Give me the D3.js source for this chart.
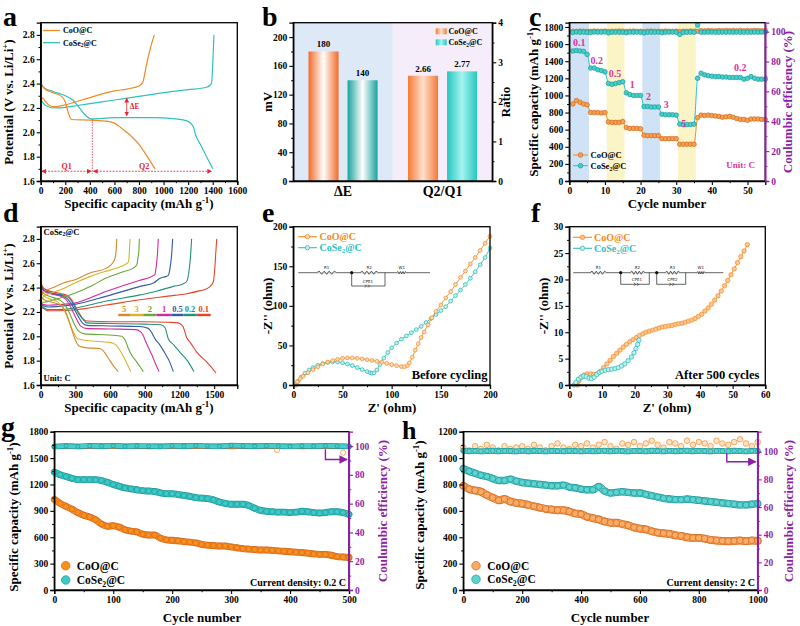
<!DOCTYPE html>
<html>
<head>
<meta charset="utf-8">
<script src="https://cdn.jsdelivr.net/npm/d3@7/dist/d3.min.js"></script>
<style>
  body { margin: 0; background: #fff; }
  svg { display: block; }
</style>
</head>
<body>
<svg id="fig" width="800" height="626"></svg>
<script>
// ---------- values ----------
// (a) voltage profiles, [capacity mAh/g, potential V]
const aCoODis = [[0,2.40],[30,2.36],[100,2.325],[170,2.295],[200,2.25],[225,2.16],[250,2.105],[400,2.10],[550,2.09],[600,2.075],[650,2.04],[700,2.0],[800,1.90],[880,1.78],[930,1.70]];
const aCoOChg = [[0,2.27],[15,2.28],[40,2.25],[70,2.22],[120,2.21],[200,2.225],[300,2.255],[400,2.285],[500,2.315],[600,2.34],[700,2.355],[800,2.38],[830,2.41],[860,2.55],[895,2.70],[925,2.80]];
const aCoSeDis = [[0,2.68],[3,2.40],[30,2.365],[100,2.335],[200,2.30],[260,2.265],[300,2.22],[350,2.155],[410,2.11],[600,2.12],[900,2.12],[1100,2.11],[1200,2.09],[1240,2.05],[1260,1.98],[1300,1.90],[1350,1.80],[1400,1.70]];
const aCoSeChg = [[0,2.27],[20,2.24],[60,2.21],[120,2.20],[200,2.205],[300,2.22],[400,2.235],[600,2.265],[800,2.295],[1000,2.325],[1200,2.35],[1350,2.37],[1390,2.40],[1402,2.60],[1410,2.80]];
const aXTicks = [0,200,400,600,800,1000,1200,1400,1600];
const aYTicks = [1.6,1.8,2.0,2.2,2.4,2.6,2.8];

// (b) overpotential and capacity ratio
const bGroups = ['ΔE', 'Q2/Q1'];
const bSeries = ['CoO@C', 'CoSe2@C'];
const bDeltaE = [180, 140];
const bRatio = [2.66, 2.77];
const bYTicks = [0,40,80,120,160,200];
const bRTicks = [0,1,2,3,4];

// (c) rate capability, one value per cycle (cycle 1..55)
const cCoO = [900,940,920,900,890, 800,800,800,795,800, 690,685,685,685,695, 625,615,615,615,610, 535,530,530,530,530, 495,495,495,495,495, 430,430,430,430,430, 740,770,765,770,765, 760,755,745,750,755, 745,730,720,720,710, 725,725,725,720,720];
const cCoSe = [1520,1525,1520,1515,1480, 1320,1320,1300,1290,1275, 1140,1130,1140,1150,1160, 1030,1010,1000,1000,1000, 870,870,865,865,865, 780,775,775,775,770, 665,660,660,660,665, 1200,1260,1240,1230,1225, 1220,1220,1215,1215,1210, 1210,1210,1210,1190,1200, 1220,1200,1190,1190,1190];
const cCoOCE = [100.3,100.1,100.4,100.2,100.3, 100.2,100.4,100.3,100.2,100.4, 100.1,100.3,100.2,100.4,100.3, 100.2,100.3,100.4,100.2,100.3, 100.1,100.3,100.4,100.2,100.3, 100.2,100.4,100.3,100.2,100.3, 100.1,100.3,100.2,100.4,100.3, 100.2,100.6,100.5,100.7,100.6, 100.5,100.7,100.6,100.8,100.6, 100.7,100.5,100.8,100.6,100.7, 100.6,100.8,100.7,100.6,100.7];
const cCoSeCE = [99.5,99.8,99.6,99.7,99.5, 99.4,99.8,99.6,99.7,99.8, 99.2,99.6,99.7,99.6,99.6, 99.3,99.7,99.6,99.7,99.6, 99.2,99.6,99.7,99.6,99.7, 99.3,99.6,99.7,99.7,99.6, 98.2,99.5,99.6,99.7,99.6, 104.5,99.6,99.6,99.7,99.7, 99.6,99.6,99.7,99.6,99.7, 99.6,99.7,99.6,99.6,99.7, 99.6,99.7,99.6,99.7,99.6];
const cBandRanges = [[0,5.5],[10.5,15.5],[20.5,25.5],[30.5,35.5]];
const cRateText = ['0.1','0.2','0.5','1','2','3','5','0.2'];
const cRateAt = [[2.8,1576],[7.7,1373],[12.8,1210],[17.7,1082],[22.2,945],[27.2,848],[32.1,626],[48,1288]];
const cXTicks = [0,10,20,30,40,50];
const cYTicks = [0,200,400,600,800,1000,1200,1400,1600,1800];
const cRTicks = [0,20,40,60,80,100];

// (d) CoSe2@C profiles at different rates, [capacity, V]
const dRates = ['0.1','0.2','0.5','1','2','3','5'];
const dDis01 = [[0,2.74],[2,2.44],[30,2.39],[100,2.365],[180,2.35],[240,2.33],[280,2.28],[320,2.21],[360,2.15],[400,2.125],[600,2.12],[900,2.12],[1100,2.115],[1190,2.11],[1230,2.08],[1262,1.99],[1300,1.94],[1349,1.87],[1435,1.79],[1516,1.70]];
const dChg01 = [[0,1.72],[3,2.24],[20,2.23],[60,2.21],[150,2.21],[282,2.216],[570,2.257],[859,2.30],[1100,2.33],[1262,2.35],[1380,2.375],[1435,2.39],[1475,2.42],[1493,2.45],[1505,2.55],[1515,2.70],[1522,2.80]];
const dDis02 = [[0,2.42],[30,2.38],[100,2.355],[180,2.34],[240,2.32],[285,2.26],[325,2.19],[365,2.14],[400,2.11],[600,2.105],[900,2.10],[1040,2.095],[1075,2.07],[1103,1.98],[1150,1.93],[1203,1.87],[1276,1.79],[1325,1.71]];
const dChg02 = [[0,1.75],[3,2.25],[20,2.24],[60,2.22],[150,2.22],[282,2.23],[570,2.29],[859,2.34],[1000,2.37],[1147,2.41],[1230,2.43],[1262,2.45],[1280,2.52],[1295,2.65],[1305,2.80]];
const dDis05 = [[0,2.41],[30,2.375],[100,2.35],[180,2.335],[230,2.31],[275,2.25],[320,2.17],[360,2.11],[400,2.09],[600,2.085],[850,2.08],[930,2.065],[960,2.03],[988,1.98],[1030,1.93],[1075,1.86],[1115,1.79],[1147,1.71]];
const dChg05 = [[0,1.78],[3,2.26],[25,2.25],[70,2.24],[150,2.245],[282,2.26],[570,2.33],[859,2.41],[980,2.44],[1032,2.476],[1080,2.49],[1103,2.50],[1120,2.57],[1133,2.68],[1141,2.80]];
const dDis1 = [[0,2.40],[30,2.37],[100,2.345],[170,2.33],[220,2.30],[265,2.23],[305,2.15],[345,2.085],[390,2.065],[600,2.06],[820,2.055],[860,2.04],[885,2.01],[902,1.97],[930,1.91],[960,1.85],[990,1.78],[1023,1.71]];
const dChg1 = [[0,1.80],[3,2.27],[25,2.26],[70,2.255],[150,2.26],[282,2.27],[570,2.37],[859,2.46],[946,2.485],[975,2.50],[988,2.51],[1000,2.58],[1010,2.68],[1017,2.80]];
const dDis2 = [[0,2.38],[30,2.35],[100,2.32],[160,2.30],[210,2.26],[250,2.19],[290,2.10],[330,2.04],[380,2.02],[600,2.01],[700,2.0],[730,1.97],[758,1.90],[790,1.84],[830,1.79],[860,1.75],[887,1.71]];
const dChg2 = [[0,1.82],[3,2.28],[30,2.28],[80,2.29],[150,2.31],[282,2.35],[450,2.42],[570,2.48],[714,2.53],[800,2.56],[830,2.585],[842,2.65],[850,2.72],[853,2.80]];
const dDis3 = [[0,2.36],[30,2.33],[100,2.30],[150,2.28],[200,2.22],[240,2.13],[280,2.04],[320,1.98],[400,1.965],[600,1.95],[650,1.93],[700,1.86],[743,1.78],[778,1.71]];
const dChg3 = [[0,1.85],[3,2.30],[30,2.33],[100,2.36],[167,2.38],[300,2.44],[426,2.49],[550,2.53],[657,2.56],[730,2.59],[758,2.61],[766,2.68],[772,2.80]];
const dDis5 = [[0,2.33],[30,2.30],[100,2.28],[180,2.25],[230,2.17],[270,2.05],[300,1.97],[330,1.92],[400,1.905],[513,1.90],[550,1.87],[585,1.82],[642,1.74],[671,1.71]];
const dChg5 = [[0,1.88],[3,2.32],[20,2.36],[109,2.40],[200,2.44],[282,2.46],[426,2.52],[570,2.56],[620,2.60],[642,2.64],[652,2.70],[658,2.80]];
const dKeyOrder = ['5','3','2','1','0.5','0.2','0.1'];
const dKeyEdges = [671,772,887,1003,1133,1233,1349,1470];
const dXTicks = [0,300,600,900,1200,1500];
const dYTicks = [1.6,1.8,2.0,2.2,2.4,2.6,2.8];

// (e) EIS before cycling, [Z', -Z'']
const eCoO = [[2,0],[4,4],[7,8],[10,11],[15,15.5],[20,19.5],[25,23],[30,26.5],[35,29],[40,31],[45,32.5],[50,33.8],[55,34.3],[60,34.2],[65,33.7],[70,33],[75,32],[80,31],[85,30],[90,28.7],[95,27.3],[100,25.8],[105,24.5],[110,23.3],[113,23],[116,24.5],[118,28],[121,35],[124,44],[127,52],[130,60],[133,67],[137,76],[141,85],[145,93],[150,101],[155,110],[160,118],[165,127],[170,136],[175,144],[180,153],[185,161],[190,170],[195,179],[200,188]];
const eCoSe = [[3,0],[5,5],[8,10],[12,15],[16,19],[20,22],[25,25],[30,27],[35,28.5],[40,29.3],[45,29],[50,28],[55,26.5],[60,24.5],[65,22],[70,19.5],[75,17],[78,15.5],[80,14.8],[82,15.3],[85,19],[88,26],[92,34],[96,41],[100,47],[105,53],[110,58],[115,62],[120,66],[125,70],[130,74],[135,79],[140,84],[145,89],[150,94],[155,99],[160,106],[165,113],[170,120],[175,127],[180,135],[185,143],[190,152],[195,161],[200,173]];
const eTicks = [0,50,100,150,200];

// (f) EIS after 500 cycles
const fCoO = [[2.5,0],[3,0.8],[3.8,1.5],[4.6,1.9],[5.5,2.1],[6.5,2.1],[7.5,2.0],[8.5,2.1],[9.5,2.6],[10.5,3.3],[11.5,4.0],[12.5,4.7],[13.5,5.4],[14.5,6.0],[15.5,6.6],[16.5,7.2],[17.5,7.7],[18.5,8.2],[19.5,8.6],[20.5,9.0],[21.5,9.4],[22.5,9.7],[23.5,10.0],[24.5,10.2],[25.5,10.4],[26.5,10.6],[27.5,10.8],[28.5,11.0],[29.5,11.1],[30.5,11.2],[31.5,11.3],[32.5,11.5],[33.5,11.6],[34.5,11.7],[35.5,11.9],[36.5,12.1],[37.5,12.3],[38.5,12.6],[39.5,13.0],[40.5,13.4],[41.5,14.0],[42.5,14.6],[43.5,15.3],[44.5,16.1],[45.5,16.9],[46.5,17.8],[47.5,18.8],[48.5,19.8],[49.5,20.9],[50.5,22.0],[51.5,23.2],[52.5,24.3],[53.5,25.4],[54.5,26.6]];
const fCoSe = [[1.5,0],[2,0.5],[2.8,1.1],[3.6,1.5],[4.4,1.7],[5.2,1.6],[6,1.3],[6.8,1.2],[7.6,1.5],[8.4,2.0],[9.2,2.4],[10,2.6],[11,2.8],[12,2.9],[13,3.0],[14,3.1],[15,3.3],[16,3.6],[17,4.0],[18,4.6],[19,5.3],[19.8,6.1],[20.4,6.9],[20.9,7.7],[21.3,8.5]];
const fXTicks = [0,10,20,30,40,50,60];
const fYTicks = [0,5,10,15,20,25,30];

// (g) cycling at 0.2 C, capacity every 10 cycles, CE every 20 cycles
const gCoO = [1030,985,950,920,880,850,830,800,750,725,730, 715,685,670,660,635,625,625,590,570,565, 560,550,545,535,520,510,505,500,500,490, 480,470,465,460,455,455,450,445,440,435, 430,425,420,410,405,405,395,380,375,370];
const gCoSe = [1340,1310,1290,1270,1255,1255,1255,1255,1245,1225,1200, 1180,1160,1150,1140,1130,1125,1120,1105,1095,1095, 1085,1075,1065,1050,1045,1040,1025,1000,985,975, 975,975,960,930,905,895,890,885,885,880, 885,895,890,880,875,880,890,890,880,860];
const gCoOCE = [99.8,100.0,99.7,99.9,100.1,99.8,100.0,99.9,99.7,100.0,99.8,100.1,99.9,99.8,100.0,99.7,99.9,100.1,99.8,100.0,99.9,99.7,100.0,99.8,99.9,99.6];
const gCoSeCE = [99.6,100.1,99.8,100.2,99.9,100.3,99.8,100.1,100.0,99.7,100.2,99.9,100.3,100.0,99.8,100.4,100.1,99.9,100.2,100.0,99.8,100.1,99.9,100.2,100.0,99.8];
const gCoOCEOut = [[378,97.3],[490,95.5]];
const gXTicks = [0,100,200,300,400,500];
const gYTicks = [0,300,600,900,1200,1500,1800];

// (h) cycling at 2 C, every 20 cycles
const hCoO = [790,765,755,745,720,700,680,690,670,660,655, 645,635,625,615,610,605,605,595,580,575, 555,545,535,520,510,510,500,490,475,465, 460,445,435,430,425,415,410,400,395,395, 390,380,375,372,370,372,375,370,375,372];
const hCoSe = [920,900,885,870,860,845,830,830,840,825,815, 810,805,800,795,790,790,795,780,775,765, 760,760,785,750,735,740,745,740,735,735, 725,715,705,695,690,685,685,690,685,680, 675,670,665,660,655,650,645,645,650,655];
const hCoOCE = [103,101,104,102,105,103,101,104,102,103, 104,102,105,103,101,104,106,103,102,105, 104,106,103,105,107,104,102,106,105,107, 104,106,108,105,103,107,106,104,108,105, 107,106,104,108,106,105,107,109,106,104,107];
const hCoSeCE = [100.8,100.4,100.6,100.3,100.5,100.7,100.4,100.6,100.5,100.3, 100.6,100.4,100.7,100.5,100.3,100.6,100.5,100.4,100.7,100.5, 100.3,100.6,100.4,100.5,100.7,100.4,100.6,100.5,100.3,100.6, 100.5,100.4,100.7,100.5,100.3,100.6,100.4,100.5,100.7,100.4, 100.6,100.5,100.3,100.6,100.5,100.4,100.7,100.5,100.3,100.6,100.5];
const hXTicks = [0,200,400,600,800,1000];
const hYTicks = [0,200,400,600,800,1000,1200];

// ---------- styling ----------
const SERIF = '"Liberation Serif","Times New Roman",serif';
const ORANGE = '#f28a24', ORANGE_D = '#d6651a';
const TEAL = '#2ec2be', TEAL_D = '#1c9a98';
const PURPLE = '#8e1ea6', MAGENTA = '#e0339c', RED = '#e0282e';
const TICK_FS = 9.5, TITLE_FS = 13;

const svg = d3.select('#fig');
svg.append('rect').attr('width', 800).attr('height', 626).attr('fill', '#fff');
const defs = svg.append('defs');

function arrowMarker(id, color) {
  defs.append('marker').attr('id', id).attr('viewBox', '0 0 10 10')
    .attr('refX', 9).attr('refY', 5).attr('markerWidth', 6).attr('markerHeight', 6)
    .attr('orient', 'auto-start-reverse')
    .append('path').attr('d', 'M0,0L10,5L0,10z').attr('fill', color);
}
arrowMarker('arRed', RED);
arrowMarker('arPurple', PURPLE);

function panel(l, t, r, b) {
  const g = svg.append('g').attr('transform', `translate(${l},${t})`);
  return { g, w: r - l, h: b - t, l, t };
}

// text with optional sup / sub parts
function label(g, x, y, parts, o = {}) {
  const size = o.size || TITLE_FS;
  const t = g.append('text').attr('x', x).attr('y', y)
    .attr('font-family', SERIF).attr('font-weight', 'bold')
    .attr('font-size', size).attr('fill', o.color || '#000')
    .attr('text-anchor', o.anchor || 'middle');
  if (o.rotate) t.attr('transform', `rotate(-90,${x},${y})`);
  let shift = 0;
  parts.forEach(p => {
    const [s, k] = typeof p === 'string' ? [p, null] : p;
    const ts = t.append('tspan').text(s);
    let target = 0;
    if (k === 'sup') target = -size * 0.38;
    if (k === 'sub') target = size * 0.22;
    if (target !== shift) ts.attr('dy', target - shift);
    if (k) ts.attr('font-size', size * 0.68);
    shift = target;
  });
  return t;
}
const coSe = ['CoSe', ['2', 'sub'], '@C'];
const capTitle = ['Specific capacity (mAh g', ['-1', 'sup'], ')'];
const potTitle = ['Potential (V vs. Li/Li', ['+', 'sup'], ')'];

function axis(p, side, scale, ticks, o = {}) {
  const color = o.color || '#000';
  const make = { bottom: d3.axisBottom, left: d3.axisLeft, right: d3.axisRight }[side];
  const tr = side === 'bottom' ? `translate(0,${p.h})` : side === 'right' ? `translate(${p.w},0)` : null;
  const ax = p.g.append('g').attr('transform', tr)
    .call(make(scale).tickValues(ticks).tickSize(o.size === undefined ? 4 : o.size).tickPadding(o.pad || 2)
      .tickFormat(o.fmt || (d => d)));
  ax.select('.domain').attr('stroke', color).attr('stroke-width', 1.3);
  ax.selectAll('.tick line').attr('stroke', color).attr('stroke-width', 1.1);
  ax.selectAll('.tick text').attr('fill', color).attr('font-family', SERIF)
    .attr('font-weight', 'bold').attr('font-size', o.fs || TICK_FS);
  if (o.minor !== false) {
    const mids = ticks.slice(1).map((t, i) => (t + ticks[i]) / 2);
    const mn = p.g.append('g').attr('transform', tr)
      .call(make(scale).tickValues(mids).tickSize(2.2).tickFormat(''));
    mn.select('.domain').remove();
    mn.selectAll('.tick line').attr('stroke', color).attr('stroke-width', 1);
  }
  return ax;
}

function frame(p, rightColor) {
  p.g.append('rect').attr('width', p.w).attr('height', p.h)
    .attr('fill', 'none').attr('stroke', '#000').attr('stroke-width', 1.3);
  if (rightColor) {
    p.g.append('line').attr('x1', p.w).attr('x2', p.w).attr('y1', 0).attr('y2', p.h)
      .attr('stroke', rightColor).attr('stroke-width', 1.6);
  }
}

function letter(ch, x, y, size = 28) {
  svg.append('text').attr('x', x).attr('y', y).attr('font-family', SERIF)
    .attr('font-weight', 'bold').attr('font-size', size).text(ch);
}

function curve(p, pts, x, y, color, w = 1.2) {
  const line = d3.line().x(d => x(d[0])).y(d => y(d[1])).curve(d3.curveMonotoneX);
  p.g.append('path').attr('d', line(pts)).attr('fill', 'none')
    .attr('stroke', color).attr('stroke-width', w).attr('stroke-linejoin', 'round');
}

function dots(p, pts, x, y, fill, stroke, r) {
  p.g.append('g').selectAll('circle').data(pts).join('circle')
    .attr('cx', d => x(d[0])).attr('cy', d => y(d[1])).attr('r', r)
    .attr('fill', fill).attr('stroke', stroke).attr('stroke-width', 0.7);
}

// thick band of overlapping markers (long-term cycling)
function band(p, pts, x, y, fill, edge, w) {
  const line = d3.line().x(d => x(d[0])).y(d => y(d[1])).curve(d3.curveMonotoneX);
  p.g.append('path').attr('d', line(pts)).attr('fill', 'none').attr('stroke', edge)
    .attr('stroke-width', w + 1.4).attr('stroke-linecap', 'round');
  p.g.append('path').attr('d', line(pts)).attr('fill', 'none').attr('stroke', fill)
    .attr('stroke-width', w).attr('stroke-linecap', 'round');
  dots(p, pts, x, y, fill, edge, w / 2);
}

// ================= (a) =================
const pa = panel(40.7, 22.7, 237.3, 181);
const ax = d3.scaleLinear().domain([0, 1600]).range([0, pa.w]);
const ay = d3.scaleLinear().domain([1.6, 2.9]).range([pa.h, 0]);
curve(pa, aCoSeDis, ax, ay, TEAL);
curve(pa, aCoSeChg, ax, ay, TEAL);
curve(pa, aCoODis, ax, ay, ORANGE);
curve(pa, aCoOChg, ax, ay, ORANGE);
// Q1 / Q2 / ΔE annotations
pa.g.append('line').attr('x1', ax(420)).attr('x2', ax(420)).attr('y1', ay(2.11)).attr('y2', ay(1.66))
  .attr('stroke', RED).attr('stroke-width', 0.8).attr('stroke-dasharray', '1.5,1.2');
[[0, 420], [420, 1400]].forEach(([a, b]) => {
  pa.g.append('line').attr('x1', ax(a) + 1).attr('x2', ax(b) - 1).attr('y1', ay(1.68)).attr('y2', ay(1.68))
    .attr('stroke', RED).attr('stroke-width', 0.8).attr('stroke-dasharray', '2,1.2')
    .attr('marker-start', 'url(#arRed)').attr('marker-end', 'url(#arRed)');
});
label(pa.g, ax(212), ay(1.70), ['Q1'], { size: 8, color: RED });
label(pa.g, ax(841), ay(1.70), ['Q2'], { size: 8, color: RED });
pa.g.append('line').attr('x1', ax(700)).attr('x2', ax(700)).attr('y1', ay(2.135)).attr('y2', ay(2.28))
  .attr('stroke', RED).attr('stroke-width', 0.8)
  .attr('marker-start', 'url(#arRed)').attr('marker-end', 'url(#arRed)');
label(pa.g, ax(725), ay(2.195), ['ΔE'], { size: 7.5, color: RED, anchor: 'start' });
// legend
[[ORANGE, ['CoO@C'], 30.5], [TEAL, coSe, 42.7]].forEach(([c, txt, yy]) => {
  svg.append('line').attr('x1', 43).attr('x2', 60).attr('y1', yy).attr('y2', yy).attr('stroke', c).attr('stroke-width', 1.3);
  label(svg, 63, yy + 2.8, txt, { size: 8, anchor: 'start' });
});
frame(pa);
axis(pa, 'bottom', ax, aXTicks);
axis(pa, 'left', ay, aYTicks, { fmt: d3.format('.1f') });
label(svg, 139, 207.5, capTitle);
label(svg, 12.5, 102, potTitle, { rotate: true });
letter('a', 3, 26);

// ================= (b) =================
const pb = panel(293.3, 22.7, 492.3, 181);
const bx0 = d3.scaleBand().domain(bGroups).range([0, pb.w]);
const bx1 = d3.scaleBand().domain(bSeries).range([0, bx0.bandwidth()]).paddingInner(0.23).paddingOuter(0.39);
const byL = d3.scaleLinear().domain([0, 220]).range([pb.h, 0]);
const byR = d3.scaleLinear().domain([0, 4]).range([pb.h, 0]);
const bBg = ['#dde9f7', '#f5eefa'];
const bGrad = [[['#f26a28', '#ffffff'], ['#17a39c', '#ffffff']], [['#f47a38', '#fee0cc'], ['#25c6c0', '#a6f4f1']]];
bGroups.forEach((gname, gi) => {
  pb.g.append('rect').attr('x', bx0(gname)).attr('width', bx0.bandwidth()).attr('height', pb.h).attr('fill', bBg[gi]);
  bSeries.forEach((s, si) => {
    const grad = defs.append('linearGradient').attr('id', `bg${gi}${si}`);
    [[0, bGrad[gi][si][0]], [50, bGrad[gi][si][1]], [100, bGrad[gi][si][0]]].forEach(([o, c]) =>
      grad.append('stop').attr('offset', o + '%').attr('stop-color', c));
  });
});
const bVals = [bDeltaE, bRatio];
const bScales = [byL, byR];
bGroups.forEach((gname, gi) => {
  bSeries.forEach((s, si) => {
    const v = bVals[gi][si];
    const y = bScales[gi](v);
    const x = bx0(gname) + bx1(s);
    pb.g.append('rect').attr('x', x).attr('y', y).attr('width', bx1.bandwidth())
      .attr('height', pb.h - y).attr('fill', `url(#bg${gi}${si})`);
    label(pb.g, x + bx1.bandwidth() / 2, y - 4, [gi === 0 ? String(v) : v.toFixed(2)], { size: 9 });
  });
});
[[0, ['CoO@C'], 28.3], [1, coSe, 39.3]].forEach(([si, txt, yy]) => {
  svg.append('rect').attr('x', 435.7).attr('y', yy).attr('width', 11).attr('height', 6).attr('fill', `url(#bg1${si})`);
  label(svg, 448.5, yy + 5.6, txt, { size: 8, anchor: 'start' });
});
frame(pb);
axis(pb, 'left', byL, bYTicks);
axis(pb, 'right', byR, bRTicks);
axis(pb, 'bottom', bx0, bGroups, { size: 0, pad: 5, fs: 14, minor: false });
label(svg, 272, 102, ['mV'], { rotate: true });
label(svg, 510, 102, ['Ratio'], { rotate: true });
letter('b', 262, 26);

// ================= (c) =================
const pc = panel(569.3, 22.7, 765.3, 181);
const cx = d3.scaleLinear().domain([0, 55]).range([0, pc.w]);
const cy = d3.scaleLinear().domain([0, 1850]).range([pc.h, 0]);
const cyR = d3.scaleLinear().domain([0, 106]).range([pc.h, 0]);
const cBandFill = ['#cfe2f6', '#fbf4c6'];
cBandRanges.forEach(([a, b], i) => {
  pc.g.append('rect').attr('x', cx(a)).attr('width', cx(b) - cx(a)).attr('height', pc.h)
    .attr('fill', cBandFill[i % 2]);
});
const cPts = arr => arr.map((v, i) => [i + 1, v]);
curve(pc, cPts(cCoOCE), cx, cyR, ORANGE, 0.8);
dots(pc, cPts(cCoOCE), cx, cyR, '#f5a04e', ORANGE_D, 2.3);
curve(pc, cPts(cCoSeCE), cx, cyR, TEAL, 0.8);
dots(pc, cPts(cCoSeCE), cx, cyR, '#45cfcb', TEAL_D, 2.3);
curve(pc, cPts(cCoO), cx, cy, ORANGE, 1);
dots(pc, cPts(cCoO), cx, cy, '#f5a04e', ORANGE_D, 2.3);
curve(pc, cPts(cCoSe), cx, cy, TEAL, 1);
dots(pc, cPts(cCoSe), cx, cy, '#45cfcb', TEAL_D, 2.3);
cRateText.forEach((t, i) => label(pc.g, cx(cRateAt[i][0]), cy(cRateAt[i][1]), [t], { size: 10, color: MAGENTA }));
label(svg, 755, 168.3, ['Unit: C'], { size: 9, color: MAGENTA, anchor: 'end' });
[[ORANGE, '#f5a04e', ORANGE_D, ['CoO@C'], 155], [TEAL, '#45cfcb', TEAL_D, coSe, 165.7]].forEach(([c, f, e, txt, yy]) => {
  svg.append('line').attr('x1', 573).attr('x2', 588).attr('y1', yy).attr('y2', yy).attr('stroke', c).attr('stroke-width', 1);
  svg.append('circle').attr('cx', 580.5).attr('cy', yy).attr('r', 2.3).attr('fill', f).attr('stroke', e).attr('stroke-width', 0.7);
  label(svg, 590.5, yy + 3, txt, { size: 8.5, anchor: 'start' });
});
frame(pc, PURPLE);
axis(pc, 'bottom', cx, cXTicks);
axis(pc, 'left', cy, cYTicks);
axis(pc, 'right', cyR, cRTicks, { color: PURPLE });
label(svg, 667, 207.5, ['Cycle number']);
label(svg, 538, 102, capTitle, { rotate: true });
label(svg, 792, 102, ['Coulumbic efficiency (%)'], { rotate: true, color: PURPLE });
letter('c', 529, 26);

// ================= (d) =================
const pd = panel(40.7, 226.7, 237.3, 385);
const dx = d3.scaleLinear().domain([0, 1700]).range([0, pd.w]);
const dy = d3.scaleLinear().domain([1.6, 2.9]).range([pd.h, 0]);
const dColor = { '0.1': '#e5432a', '0.2': '#1f9478', '0.5': '#3358a8', '1': '#d42c9a', '2': '#66a838', '3': '#d6b52a', '5': '#d7892e' };
const dDis = [dDis01, dDis02, dDis05, dDis1, dDis2, dDis3, dDis5];
const dChg = [dChg01, dChg02, dChg05, dChg1, dChg2, dChg3, dChg5];
dRates.forEach((r, i) => {
  curve(pd, dDis[i], dx, dy, dColor[r], 1.1);
  curve(pd, dChg[i], dx, dy, dColor[r], 1.1);
});
dKeyOrder.forEach((r, i) => {
  const a = dKeyEdges[i], b = dKeyEdges[i + 1];
  pd.g.append('line').attr('x1', dx(a)).attr('x2', dx(b)).attr('y1', dy(2.175)).attr('y2', dy(2.175))
    .attr('stroke', dColor[r]).attr('stroke-width', 2.4);
  label(pd.g, dx((a + b) / 2), dy(2.2), [r], { size: 8.5, color: dColor[r] });
});
label(svg, 43.5, 234.5, coSe, { size: 8.5, anchor: 'start' });
label(svg, 43.5, 380.5, ['Unit: C'], { size: 8.5, anchor: 'start' });
frame(pd);
axis(pd, 'bottom', dx, dXTicks);
axis(pd, 'left', dy, dYTicks, { fmt: d3.format('.1f') });
label(svg, 139, 411.5, capTitle);
label(svg, 12.5, 306, potTitle, { rotate: true });
letter('d', 3, 222);

// ================= (e) =================
function circuit(pieces, y, x0, x1) {
  const gc = svg.append('g').attr('stroke', '#222').attr('stroke-width', 0.7).attr('fill', 'none');
  gc.append('line').attr('x1', x0).attr('x2', x1).attr('y1', y).attr('y2', y).attr('stroke', '#222');
  const txt = (x, yy, s) => svg.append('text').attr('x', x).attr('y', yy).attr('text-anchor', 'middle')
    .attr('font-family', 'DejaVu Sans, sans-serif').attr('font-size', 4).attr('fill', '#222').text(s);
  const zig = (xa, xb, yy, amp) => {
    let d = `M${xa},${yy}`;
    for (let i = 1; i < 8; i++) d += `L${xa + (xb - xa) * i / 8},${yy + (i % 2 ? -amp : amp)}`;
    d += `L${xb},${yy}`;
    gc.append('line').attr('x1', xa).attr('x2', xb).attr('y1', yy).attr('y2', yy).attr('stroke', '#fff').attr('stroke-width', 0.9);
    gc.append('path').attr('d', d);
  };
  pieces.forEach(pc => {
    if (pc.type === 'R') { zig(pc.a, pc.b, y, 1.6); txt((pc.a + pc.b) / 2, y - 4, pc.name); }
    if (pc.type === 'W') { zig(pc.a, pc.b, y, 1.2); txt((pc.a + pc.b) / 2, y - 4, pc.name); }
    if (pc.type === 'P') {
      svg.append('circle').attr('cx', pc.node).attr('cy', y).attr('r', 1.6).attr('fill', '#111');
      gc.append('path').attr('d', `M${pc.node},${y}V${pc.low}H${pc.end}V${y}`);
      const m = pc.cpe;
      gc.append('path').attr('d', `M${m - 3},${pc.low - 1.5}L${m - 1.5},${pc.low}L${m - 3},${pc.low + 1.5}M${m},${pc.low - 1.5}L${m + 1.5},${pc.low}L${m},${pc.low + 1.5}`);
      txt(m, pc.low - 3, pc.name);
    }
  });
}
const pe = panel(293.3, 226.7, 490, 385);
const ex = d3.scaleLinear().domain([0, 200]).range([0, pe.w]);
const ey = d3.scaleLinear().domain([0, 200]).range([pe.h, 0]);
curve(pe, eCoSe, ex, ey, TEAL, 0.9);
dots(pe, eCoSe, ex, ey, '#c2f0ee', '#22b7b3', 1.9);
curve(pe, eCoO, ex, ey, ORANGE, 0.9);
dots(pe, eCoO, ex, ey, '#fdd8b4', ORANGE, 1.9);
[[ORANGE, '#fdd8b4', ['CoO@C'], 236.7], [TEAL, '#c2f0ee', coSe, 247.7]].forEach(([c, f, txt, yy]) => {
  svg.append('line').attr('x1', 298).attr('x2', 317).attr('y1', yy).attr('y2', yy).attr('stroke', c).attr('stroke-width', 1.1);
  svg.append('circle').attr('cx', 307.5).attr('cy', yy).attr('r', 2.2).attr('fill', f).attr('stroke', c).attr('stroke-width', 0.8);
  label(svg, 319.5, yy + 3.4, txt, { size: 10, color: c, anchor: 'start' });
});
circuit([
  { type: 'R', a: 316.7, b: 336.7, name: 'R1' },
  { type: 'R', a: 360, b: 378.3, name: 'R2' },
  { type: 'P', node: 351.7, low: 286, end: 385, cpe: 368, name: 'CPE1' },
  { type: 'W', a: 396.7, b: 406.7, name: 'W1' }
], 272.7, 298.3, 430);
label(svg, 487.5, 378.5, ['Before cycling'], { size: 12.5, anchor: 'end' });
frame(pe);
axis(pe, 'bottom', ex, eTicks);
axis(pe, 'left', ey, eTicks);
label(svg, 392, 412, ["Z' (ohm)"]);
label(svg, 272, 306, ["-Z'' (ohm)"], { rotate: true });
letter('e', 262, 222);

// ================= (f) =================
const pf = panel(569.3, 226.7, 765.3, 385);
const fx = d3.scaleLinear().domain([0, 60]).range([0, pf.w]);
const fy = d3.scaleLinear().domain([0, 30]).range([pf.h, 0]);
curve(pf, fCoO, fx, fy, ORANGE, 0.9);
dots(pf, fCoO, fx, fy, '#fbc690', ORANGE, 2.2);
curve(pf, fCoSe, fx, fy, TEAL, 0.9);
dots(pf, fCoSe, fx, fy, '#bff0ee', '#22b7b3', 2.2);
[[ORANGE, '#fbc690', ['CoO@C'], 237.3], [TEAL, '#bff0ee', coSe, 248.3]].forEach(([c, f, txt, yy]) => {
  svg.append('line').attr('x1', 573).attr('x2', 592).attr('y1', yy).attr('y2', yy).attr('stroke', c).attr('stroke-width', 1.1);
  svg.append('circle').attr('cx', 582.5).attr('cy', yy).attr('r', 2.2).attr('fill', f).attr('stroke', c).attr('stroke-width', 0.8);
  label(svg, 594, yy + 3.4, txt, { size: 10, color: c, anchor: 'start' });
});
circuit([
  { type: 'R', a: 590, b: 606.7, name: 'R1' },
  { type: 'R', a: 630, b: 645, name: 'R2' },
  { type: 'P', node: 620.7, low: 284.3, end: 649.3, cpe: 637, name: 'CPE1' },
  { type: 'R', a: 665, b: 680, name: 'R3' },
  { type: 'P', node: 656.7, low: 284.3, end: 685.7, cpe: 672.5, name: 'CPE2' },
  { type: 'W', a: 696.7, b: 705, name: 'W1' }
], 272.7, 573.3, 723.3);
label(svg, 759.5, 378.5, ['After 500 cycles'], { size: 12.5, anchor: 'end' });
frame(pf);
axis(pf, 'bottom', fx, fXTicks);
axis(pf, 'left', fy, fYTicks);
label(svg, 667, 412, ["Z' (ohm)"]);
label(svg, 548, 306, ["-Z'' (ohm)"], { rotate: true });
letter('f', 531, 222);

// ================= (g) =================
const pg = panel(54.3, 431.7, 349, 590);
const gx = d3.scaleLinear().domain([0, 500]).range([0, pg.w]);
const gy = d3.scaleLinear().domain([0, 1800]).range([pg.h, 0]);
const gyR = d3.scaleLinear().domain([0, 110]).range([pg.h, 0]);
const every = (arr, step) => arr.map((v, i) => [i * step, v]);
band(pg, every(gCoOCE, 20), gx, gyR, '#f5a04e', ORANGE_D, 4);
band(pg, every(gCoSeCE, 20), gx, gyR, '#47cdcb', TEAL_D, 4);
dots(pg, gCoOCEOut, gx, gyR, 'none', ORANGE, 2.6);
band(pg, every(gCoO, 10), gx, gy, '#f7901e', ORANGE_D, 5.5);
band(pg, every(gCoSe, 10), gx, gy, '#3ec8c6', TEAL_D, 5.5);
pg.g.append('path').attr('d', `M${gx(460)},${gyR(97.8)}V${gyR(90.7)}H${pg.w - 2}`)
  .attr('fill', 'none').attr('stroke', PURPLE).attr('stroke-width', 1.4).attr('marker-end', 'url(#arPurple)');
[['#f7901e', ORANGE_D, ['CoO@C'], 565.7], ['#3ec8c6', TEAL_D, coSe, 580]].forEach(([f, e, txt, yy]) => {
  svg.append('circle').attr('cx', 65.7).attr('cy', yy).attr('r', 4.3).attr('fill', f).attr('stroke', e).attr('stroke-width', 0.7);
  label(svg, 76.7, yy + 4, txt, { size: 11.5, anchor: 'start' });
});
label(svg, 346, 586, ['Current density: 0.2 C'], { size: 10, anchor: 'end' });
frame(pg, PURPLE);
axis(pg, 'bottom', gx, gXTicks);
axis(pg, 'left', gy, gYTicks);
axis(pg, 'right', gyR, cRTicks, { color: PURPLE });
label(svg, 202, 621.5, ['Cycle number']);
label(svg, 18, 517, capTitle, { rotate: true });
label(svg, 386.5, 511, ['Coulumbic efficiency (%)'], { rotate: true, color: PURPLE });
letter('g', 1, 436);

// ================= (h) =================
const ph = panel(463.3, 431.7, 757.7, 590);
const hx = d3.scaleLinear().domain([0, 1000]).range([0, ph.w]);
const hy = d3.scaleLinear().domain([0, 1200]).range([ph.h, 0]);
const hyR = d3.scaleLinear().domain([0, 114.5]).range([ph.h, 0]);
dots(ph, every(hCoOCE, 20), hx, hyR, '#fde3c8', ORANGE, 2.8);
band(ph, every(hCoSeCE, 20), hx, hyR, '#5fd6d3', TEAL_D, 4.5);
band(ph, every(hCoO, 20), hx, hy, '#f8ac66', ORANGE_D, 6.5);
band(ph, every(hCoSe, 20), hx, hy, '#5fd3d0', TEAL_D, 6);
ph.g.append('path').attr('d', `M${hx(895)},${hyR(98.8)}V${hyR(92.8)}H${ph.w - 2}`)
  .attr('fill', 'none').attr('stroke', PURPLE).attr('stroke-width', 1.4).attr('marker-end', 'url(#arPurple)');
[['#f8ac66', ORANGE_D, ['CoO@C'], 565.7], ['#5fd3d0', TEAL_D, coSe, 579.3]].forEach(([f, e, txt, yy]) => {
  svg.append('circle').attr('cx', 476).attr('cy', yy).attr('r', 4.3).attr('fill', f).attr('stroke', e).attr('stroke-width', 0.7);
  label(svg, 487.3, yy + 4, txt, { size: 11.5, anchor: 'start' });
});
label(svg, 755, 586, ['Current density: 2 C'], { size: 10, anchor: 'end' });
frame(ph, PURPLE);
axis(ph, 'bottom', hx, hXTicks);
axis(ph, 'left', hy, hYTicks);
axis(ph, 'right', hyR, cRTicks, { color: PURPLE });
label(svg, 610, 621.5, ['Cycle number']);
label(svg, 424, 515, capTitle, { rotate: true });
label(svg, 792.5, 511, ['Coulumbic efficiency (%)'], { rotate: true, color: PURPLE });
letter('h', 402, 438.5, 26);
</script>
</body>
</html>
